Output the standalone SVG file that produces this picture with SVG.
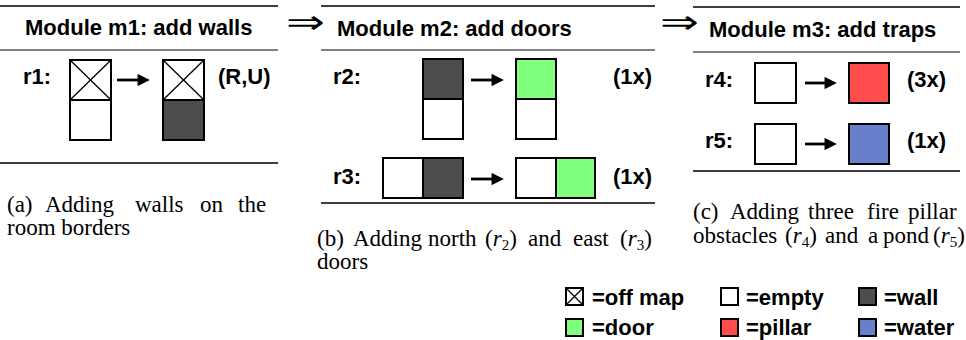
<svg xmlns="http://www.w3.org/2000/svg" width="966" height="340" viewBox="0 0 966 340">
<style>
.t{font-family:"Liberation Sans",Arial,sans-serif;font-weight:bold;font-size:22px;fill:#000}
.c{font-family:"Liberation Serif","Times New Roman",serif;font-size:23px;fill:#000}
.sub{font-size:15px}
.it{font-style:italic}
.rt{stroke:#000;stroke-width:1.6}
.rm{stroke:#000;stroke-width:1}
.cell{stroke:#000;stroke-width:2}
.e{fill:#fff}
.w{fill:#4d4d4d}
.d{fill:#80ff80}
.p{fill:#ff4d4d}
.wa{fill:#6680cc}
.x{stroke:#000;stroke-width:1.3}
.arr{stroke:#000;stroke-width:2.8;fill:none}
.imp{font-family:"DejaVu Sans",sans-serif;font-size:32px;fill:#000}
</style>
<defs>
<marker id="ah" viewBox="0 0 10 10" refX="2" refY="5" markerWidth="4.6" markerHeight="4.4" markerUnits="strokeWidth" orient="auto">
<path d="M0,0 L10,5 L0,10 Z" fill="#000"/>
</marker>
</defs>

<g id="panel-m1">
<line class="rt" x1="0" y1="6" x2="278" y2="6"/>
<text class="t" x="25" y="35">Module m1: add walls</text>
<line class="rm" x1="0" y1="50" x2="278" y2="50"/>
<text class="t" x="23" y="84">r1:</text>
<g id="r1-lhs">
<rect class="cell e" x="70" y="60" width="41" height="40"/>
<line class="x" x1="70" y1="60" x2="111" y2="100"/><line class="x" x1="111" y1="60" x2="70" y2="100"/>
<rect class="cell e" x="70" y="100" width="41" height="40"/>
</g>
<g id="r1-rhs">
<rect class="cell e" x="163" y="60" width="41" height="40"/>
<line class="x" x1="163" y1="60" x2="204" y2="100"/><line class="x" x1="204" y1="60" x2="163" y2="100"/>
<rect class="cell w" x="163" y="100" width="41" height="40"/>
</g>
<text class="t" x="218" y="84">(R,U)</text>
<line class="rt" x1="0" y1="163" x2="278" y2="163"/>
</g>

<g id="panel-m2">
<line class="rt" x1="321" y1="6" x2="655" y2="6"/>
<text class="t" x="337" y="36">Module m2: add doors</text>
<line class="rm" x1="321" y1="50" x2="655" y2="50"/>
<text class="t" x="333" y="84">r2:</text>
<g id="r2-lhs">
<rect class="cell w" x="423" y="59" width="40" height="40"/>
<rect class="cell e" x="423" y="99" width="40" height="40"/>
</g>
<g id="r2-rhs">
<rect class="cell d" x="516" y="59" width="40" height="40"/>
<rect class="cell e" x="516" y="99" width="40" height="40"/>
</g>
<text class="t" x="613" y="84">(1x)</text>
<text class="t" x="333" y="184">r3:</text>
<g id="r3-lhs">
<rect class="cell e" x="383" y="158" width="40" height="40"/>
<rect class="cell w" x="423" y="158" width="40" height="40"/>
</g>
<g id="r3-rhs">
<rect class="cell e" x="516" y="158" width="40" height="40"/>
<rect class="cell d" x="556" y="158" width="39" height="40"/>
</g>
<text class="t" x="613" y="184">(1x)</text>
<line class="rt" x1="321" y1="203" x2="655" y2="203"/>
</g>

<g id="panel-m3">
<line class="rt" x1="693" y1="7" x2="960" y2="7"/>
<text class="t" x="709" y="37">Module m3: add traps</text>
<line class="rm" x1="693" y1="52" x2="960" y2="52"/>
<text class="t" x="705" y="87">r4:</text>
<g id="r4-lhs"><rect class="cell e" x="755" y="63" width="41" height="40"/></g>
<g id="r4-rhs"><rect class="cell p" x="849" y="63" width="40" height="40"/></g>
<text class="t" x="907" y="87">(3x)</text>
<text class="t" x="705" y="148">r5:</text>
<g id="r5-lhs"><rect class="cell e" x="755" y="124" width="41" height="40"/></g>
<g id="r5-rhs"><rect class="cell wa" x="849" y="124" width="40" height="40"/></g>
<text class="t" x="907" y="148">(1x)</text>
<line class="rt" x1="693" y1="171" x2="960" y2="171"/>
</g>

<g id="implies">
<text class="imp" transform="translate(286,33) scale(1.45,1)">⇒</text>
<text class="imp" transform="translate(660,33) scale(1.45,1)">⇒</text>
</g>

<g id="connectors">
<line class="arr" x1="117" y1="80" x2="140" y2="80" marker-end="url(#ah)"/>
<line class="arr" x1="471" y1="80" x2="494" y2="80" marker-end="url(#ah)"/>
<line class="arr" x1="471" y1="179" x2="494" y2="179" marker-end="url(#ah)"/>
<line class="arr" x1="805" y1="83" x2="827" y2="83" marker-end="url(#ah)"/>
<line class="arr" x1="805" y1="144" x2="827" y2="144" marker-end="url(#ah)"/>
</g>

<g id="caption-a">
<text class="c" y="212"><tspan x="7">(a)</tspan><tspan x="45">Adding</tspan><tspan x="135">walls</tspan><tspan x="200">on</tspan><tspan x="238">the</tspan></text>
<text class="c" x="7" y="235">room borders</text>
</g>
<g id="caption-b">
<text class="c" y="246"><tspan x="317">(b)</tspan><tspan x="353">Adding</tspan><tspan x="428">north</tspan><tspan x="485">(<tspan class="it">r</tspan><tspan class="sub" dy="4">2</tspan><tspan dy="-4">)</tspan></tspan><tspan x="528">and</tspan><tspan x="573">east</tspan><tspan x="620">(<tspan class="it">r</tspan><tspan class="sub" dy="4">3</tspan><tspan dy="-4">)</tspan></tspan></text>
<text class="c" x="317" y="269">doors</text>
</g>
<g id="caption-c">
<text class="c" y="219"><tspan x="693">(c)</tspan><tspan x="730">Adding</tspan><tspan x="808">three</tspan><tspan x="867">fire</tspan><tspan x="908">pillar</tspan></text>
<text class="c" y="243"><tspan x="693">obstacles</tspan><tspan x="785">(<tspan class="it">r</tspan><tspan class="sub" dy="4">4</tspan><tspan dy="-4">)</tspan></tspan><tspan x="825">and</tspan><tspan x="868">a</tspan><tspan x="883">pond</tspan><tspan x="933">(<tspan class="it">r</tspan><tspan class="sub" dy="4">5</tspan><tspan dy="-4">)</tspan></tspan></text>
</g>

<g id="legend">
<g id="lg-offmap"><rect class="cell e" x="566" y="288" width="17" height="17"/><line class="x" x1="566" y1="288" x2="583" y2="305"/><line class="x" x1="583" y1="288" x2="566" y2="305"/><text class="t" x="592" y="305">=off map</text></g>
<g id="lg-empty"><rect class="cell e" x="721" y="288" width="17" height="17"/><text class="t" x="746" y="305">=empty</text></g>
<g id="lg-wall"><rect class="cell w" x="859" y="288" width="17" height="17"/><text class="t" x="884" y="305">=wall</text></g>
<g id="lg-door"><rect class="cell d" x="566" y="319" width="17" height="17"/><text class="t" x="592" y="335">=door</text></g>
<g id="lg-pillar"><rect class="cell p" x="721" y="319" width="17" height="17"/><text class="t" x="746" y="335">=pillar</text></g>
<g id="lg-water"><rect class="cell wa" x="859" y="319" width="17" height="17"/><text class="t" x="884" y="335">=water</text></g>
</g>
</svg>
